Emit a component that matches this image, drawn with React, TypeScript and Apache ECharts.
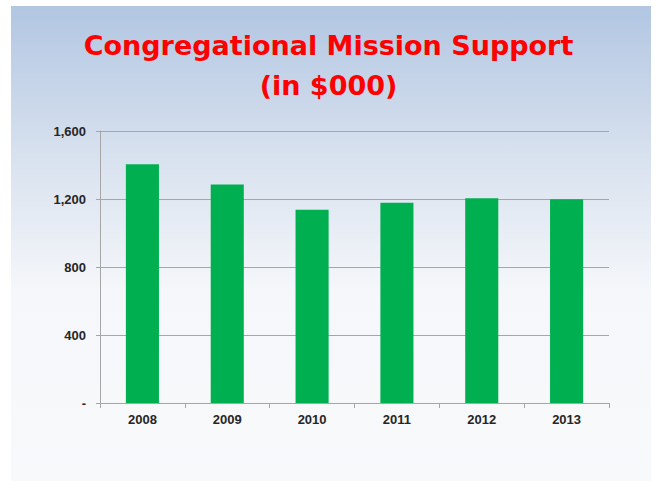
import React, { useEffect, useRef } from "react";
import * as echarts from "echarts";

const categories = ["2008", "2009", "2010", "2011", "2012", "2013"];
const values = [1404, 1286, 1137, 1178, 1204, 1198];
const yTicks = [0, 400, 800, 1200, 1600];
const titleLines = ["Congregational Mission Support", "(in $000)"];

export default function App() {
  const ref = useRef<HTMLDivElement>(null);
  useEffect(() => {
    document.body.style.margin = "0";
    const chart = echarts.init(ref.current!, null, { renderer: "svg" });
    chart.setOption({
      animation: false,
      backgroundColor: "#ffffff",
      graphic: [
        {
          type: "rect",
          z: -10,
          silent: true,
          shape: { x: 11, y: 6, width: 640, height: 475 },
          style: {
            fill: new echarts.graphic.LinearGradient(0, 0, 0, 1, [
              { offset: 0, color: "#b2c6e2" },
              { offset: 0.3, color: "#d6e0ee" },
              { offset: 0.6, color: "#f5f7fa" },
              { offset: 1, color: "#f8f9fb" },
            ]),
          },
        },
      ],
      title: {
        text: titleLines.join("\n"),
        left: "center",
        top: 25,
        padding: 0,
        textStyle: {
          fontFamily: "DejaVu Sans",
          fontSize: 27,
          fontWeight: "bold",
          color: "#ff0000",
          lineHeight: 40,
        },
      },
      grid: { left: 100, right: 48, top: 131, bottom: 78, containLabel: false },
      xAxis: {
        type: "category",
        data: categories,
        axisLine: { lineStyle: { color: "#a6a6a6" } },
        axisTick: { show: true, alignWithLabel: false, length: 5, lineStyle: { color: "#a6a6a6" } },
        axisLabel: {
          color: "#262626",
          fontWeight: "bold",
          fontSize: 13,
          fontFamily: "Liberation Sans",
          margin: 10,
        },
      },
      yAxis: {
        type: "value",
        min: 0,
        max: 1600,
        interval: 400,
        axisLine: { show: true, lineStyle: { color: "#a6a6a6" } },
        axisTick: { show: true, length: 4, lineStyle: { color: "#a6a6a6" } },
        splitLine: { lineStyle: { color: "#a6a6a6" } },
        axisLabel: {
          color: "#262626",
          fontWeight: "bold",
          fontSize: 13,
          fontFamily: "Liberation Sans",
          margin: 14,
          formatter: (v: number) =>
            yTicks.includes(v) && v === 0 ? "-" : v.toLocaleString("en-US"),
        },
      },
      series: [
        {
          type: "bar",
          data: values,
          barWidth: "39%",
          itemStyle: { color: "#00b050" },
        },
      ],
    });
    return () => chart.dispose();
  }, []);
  return (
    <div
      ref={ref}
      style={{ position: "absolute", left: 0, top: 0, width: 657, height: 481 }}
    />
  );
}
